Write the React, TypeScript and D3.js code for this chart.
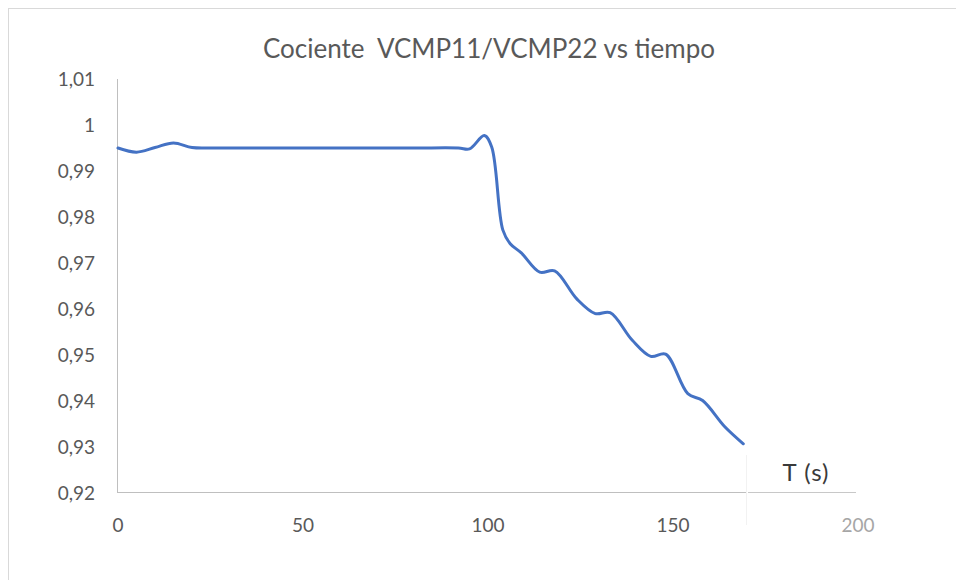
import React from "react";
import { scaleLinear, line, curveCatmullRom } from "d3";

// tiempo (s) y cociente VCMP11/VCMP22
const tiempos = [0, 5, 10, 15, 20, 25, 40, 60, 80, 92, 95, 99, 101, 104, 106, 109, 114, 118, 124, 129, 133, 139, 144, 148, 154, 158, 164, 169];
const cociente = [0.995, 0.9941, 0.9951, 0.9961, 0.9951, 0.995, 0.995, 0.995, 0.995, 0.995, 0.9948, 0.9977, 0.9952, 0.9772, 0.9742, 0.9722, 0.968, 0.9683, 0.9622, 0.959, 0.9592, 0.9532, 0.9497, 0.9502, 0.9416, 0.9401, 0.9344, 0.9307];

const yTicks = [1.01, 1, 0.99, 0.98, 0.97, 0.96, 0.95, 0.94, 0.93, 0.92];
const xTicks = [0, 50, 100, 150, 200];
const title = "Cociente  VCMP11/VCMP22 vs tiempo";
const xLabel = "T (s)";

const fmt = (v: number) => String(+v.toFixed(2)).replace(".", ",");

export default function App() {
  const width = 956,
    height = 580,
    x = scaleLinear().domain([0, 200]).range([118, 858]),
    y = scaleLinear().domain([0.92, 1.01]).range([493, 79]),
    data = tiempos.map((t, i) => ({ t, v: cociente[i] })),
    path = line<{ t: number; v: number }>()
      .x((d) => x(d.t))
      .y((d) => y(d.v))
      .curve(curveCatmullRom.alpha(0.5))(data),
    font = "Lato, 'Open Sans', sans-serif",
    tickSize = 19,
    axisEnd = 746;

  return (
    <svg
      width={width}
      height={height}
      style={{ position: "absolute", left: 0, top: 0, background: "#fff" }}
    >
      {/* marco */}
      <line x1={8} x2={width} y1={8.5} y2={8.5} stroke="#d9d9d9" />
      <line x1={8.5} x2={8.5} y1={8} y2={height} stroke="#d9d9d9" />

      <text
        x={489}
        y={58}
        textAnchor="middle"
        fill="#595959"
        fontFamily={font}
        fontSize={26}
        style={{ whiteSpace: "pre" }}
      >
        {title}
      </text>

      {/* eje y */}
      <line x1={x(0) - 0.5} x2={x(0) - 0.5} y1={y(1.01)} y2={y(0.92)} stroke="#bfbfbf" />
      {yTicks.map((v) => (
        <text
          key={v}
          x={95}
          y={y(v)}
          dy=".35em"
          textAnchor="end"
          fill="#595959"
          fontFamily={font}
          fontSize={tickSize}
        >
          {fmt(v)}
        </text>
      ))}

      {/* eje x */}
      <line x1={x(0) - 0.5} x2={axisEnd} y1={y(0.92) - 0.5} y2={y(0.92) - 0.5} stroke="#bfbfbf" />
      {xTicks.map((t) => (
        <text
          key={t}
          x={x(t)}
          y={y(0.92) + 32}
          dy=".35em"
          textAnchor="middle"
          fill={t === 200 ? "#a6a6a6" : "#595959"}
          fontFamily={font}
          fontSize={tickSize}
        >
          {t}
        </text>
      ))}

      {/* parche con la etiqueta del eje */}
      <line x1={axisEnd + 0.5} x2={axisEnd + 0.5} y1={455} y2={525} stroke="#f2f2f2" />
      <line x1={axisEnd + 2} x2={856} y1={y(0.92) - 0.5} y2={y(0.92) - 0.5} stroke="#c8c8c8" />
      <text
        x={806}
        y={481}
        textAnchor="middle"
        fill="#3a3a3a"
        fontFamily={font}
        fontSize={24}
        letterSpacing={1}
      >
        {xLabel}
      </text>

      <path d={path ?? ""} fill="none" stroke="#4472c4" strokeWidth={3} strokeLinecap="round" strokeLinejoin="round" />
    </svg>
  );
}
